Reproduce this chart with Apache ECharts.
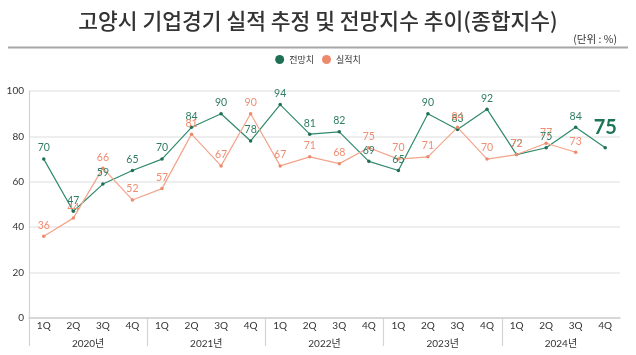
<!DOCTYPE html>
<html><head><meta charset="utf-8">
<script src="https://cdn.jsdelivr.net/npm/echarts@6/dist/echarts.min.js"></script>
<style>html,body{margin:0;padding:0;background:#fff}#c{width:636px;height:355px}</style>
</head><body><div id="c"></div>
<script>
const quarters = ['1Q','2Q','3Q','4Q','1Q','2Q','3Q','4Q','1Q','2Q','3Q','4Q','1Q','2Q','3Q','4Q','1Q','2Q','3Q','4Q'];
const years = ['2020년','2021년','2022년','2023년','2024년'];
const forecast = [70,47,59,65,70,84,90,78,94,81,82,69,65,90,83,92,72,75,84,75];
const actual = [36,44,66,52,57,81,67,90,67,71,68,75,70,71,84,70,72,77,73,null];
const yTicks = [0,20,40,60,80,100];

const FONT = 'Lato, "Noto Sans CJK KR", sans-serif';
const GREEN = '#2f8a6c', GREEN_T = '#2e7d64', ORANGE = '#f2a48b', ORANGE_T = '#f08c70';

const forecastData = forecast.map((v, i) => i === forecast.length - 1
  ? {value: v, label: {fontSize: 20, fontWeight: 'bold', distance: 8, color: '#1f7358'}}
  : v);

const chart = echarts.init(document.getElementById('c'), null, {renderer: 'canvas'});
chart.setOption({
  animation: false,
  textStyle: {fontFamily: FONT},
  title: [
    {text: '고양시 기업경기 실적 추정 및 전망지수 추이(종합지수)', left: 'center', top: 5,
     textStyle: {fontSize: 21.5, fontWeight: 500, color: '#333', fontFamily: '"Noto Sans CJK KR", sans-serif'}},
    {text: '(단위 : %)', right: 14, top: 29,
     textStyle: {fontSize: 10.5, fontWeight: 'normal', color: '#333', fontFamily: '"Noto Sans CJK KR", sans-serif'}}
  ],
  graphic: [{type: 'line', shape: {x1: 8, y1: 47.5, x2: 628, y2: 47.5}, style: {stroke: '#a6a6a6', lineWidth: 2}}],
  legend: {top: 50, left: 'center', icon: 'circle', itemWidth: 9, itemHeight: 9, itemGap: 8,
    textStyle: {fontSize: 9, color: '#333', fontFamily: '"Noto Sans CJK KR", sans-serif'},
    data: ['전망치', '실적치']},
  grid: [
    {left: 29, right: 16, top: 91, bottom: 37},
    {left: 29, right: 16, top: 318, height: 28}
  ],
  xAxis: [
    {type: 'category', gridIndex: 0, data: quarters, boundaryGap: true,
     axisLine: {lineStyle: {color: '#cfcfcf', width: 1.5}},
     axisTick: {show: false},
     axisLabel: {color: '#333', fontSize: 10, margin: 3, interval: 0, fontFamily: FONT}},
    {type: 'category', gridIndex: 1, data: years, boundaryGap: true, position: 'bottom',
     axisLine: {show: false}, axisTick: {show: false},
     axisLabel: {color: '#333', fontSize: 10, margin: -7, interval: 0, fontFamily: FONT},
     splitLine: {show: true, showMaxLine: false, lineStyle: {color: '#d4d4d4', width: 1.2}}}
  ],
  yAxis: [
    {type: 'value', gridIndex: 0, min: yTicks[0], max: yTicks[yTicks.length - 1], interval: yTicks[1] - yTicks[0],
     axisLine: {show: true, lineStyle: {color: '#d4d4d4', width: 1.2}},
     axisTick: {show: false},
     axisLabel: {color: '#333', fontSize: 10, margin: 5, fontFamily: FONT},
     splitLine: {lineStyle: {color: '#e8e8e8', width: 1.5}}},
    {type: 'value', gridIndex: 1, show: false}
  ],
  series: [
    {name: '전망치', type: 'line', xAxisIndex: 0, yAxisIndex: 0, data: forecastData,
     color: '#0e7a5a',
     lineStyle: {color: GREEN, width: 1.2},
     itemStyle: {color: '#1f6f55'},
     symbol: 'circle', symbolSize: 3.5,
     label: {show: true, position: 'top', distance: 4, color: GREEN_T, fontSize: 10.5, fontFamily: FONT}},
    {name: '실적치', type: 'line', xAxisIndex: 0, yAxisIndex: 0, data: actual,
     color: '#f5906f',
     lineStyle: {color: ORANGE, width: 1.2},
     itemStyle: {color: '#ee8a6c'},
     symbol: 'circle', symbolSize: 3.5,
     label: {show: true, position: 'top', distance: 4, color: ORANGE_T, fontSize: 10.5, fontFamily: FONT}}
  ]
});
</script></body></html>
